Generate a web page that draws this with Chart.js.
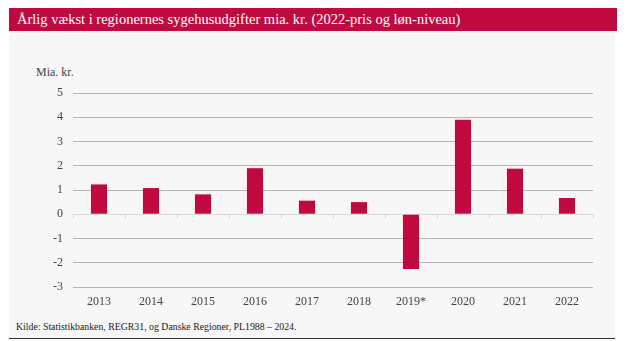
<!DOCTYPE html>
<html>
<head>
<meta charset="utf-8">
<script src="https://cdn.jsdelivr.net/npm/chart.js@4"></script>
<style>
  html, body { margin: 0; padding: 0; background: #fff; }
  body { width: 640px; height: 341px; position: relative; overflow: hidden; font-family: 'Liberation Serif', 'DejaVu Serif', serif; }
  #head { position: absolute; left: 9px; top: 8px; width: 600px; height: 23px; padding-left: 8px;
          background: #c00a3f; color: #fff; font-size: 14.5px; line-height: 23px; white-space: nowrap; }
  #panel { position: absolute; left: 9px; top: 31px; width: 606px; height: 307px; background: #f7f7f7;
           border-bottom: 1.5px solid #333; }
  #unit { position: absolute; left: 36px; top: 65px; font-size: 12px; color: #444; }
  #source { position: absolute; left: 16px; top: 321px; font-size: 9.8px; color: #222; white-space: nowrap; }
  #wrap { position: absolute; left: 0; top: 0; width: 640px; height: 341px; }
</style>
</head>
<body>
<div id="head">Årlig vækst i regionernes sygehusudgifter mia. kr. (2022-pris og løn-niveau)</div>
<div id="panel"></div>
<div id="unit">Mia. kr.</div>
<div id="source">Kilde: Statistikbanken, REGR31, og Danske Regioner, PL1988 – 2024.</div>
<div id="wrap"><canvas id="chart" width="640" height="341"></canvas></div>
<script>
const YEARS = ['2013', '2014', '2015', '2016', '2017', '2018', '2019*', '2020', '2021', '2022'];
const GROWTH = [1.23, 1.08, 0.82, 1.9, 0.56, 0.5, -2.26, 3.9, 1.88, 0.67];
const Y_MIN = -3;
const Y_MAX = 5;

const RED = '#c00a3f';

// small tick marks on the zero line between the categories
const zeroTicks = {
  id: 'zeroTicks',
  afterDatasetsDraw(chart) {
    const x = chart.scales.x;
    const y = chart.scales.y;
    const ctx = chart.ctx;
    const zero = y.getPixelForValue(0);
    const step = x.getPixelForValue(1) - x.getPixelForValue(0);
    ctx.save();
    ctx.strokeStyle = '#d4d4d4';
    ctx.lineWidth = 1;
    for (let i = 0; i <= YEARS.length; i++) {
      let px = Math.round(x.getPixelForValue(i) - step / 2) + 0.5;
      ctx.beginPath();
      ctx.moveTo(px, zero);
      ctx.lineTo(px, zero + 4);
      ctx.stroke();
    }
    ctx.restore();
  },
};

new Chart(document.getElementById('chart'), {
  type: 'bar',
  data: {
    labels: YEARS,
    datasets: [{
      data: GROWTH,
      backgroundColor: RED,
      borderWidth: 0,
      barPercentage: 0.31,
      categoryPercentage: 1,
    }],
  },
  options: {
    responsive: false,
    animation: false,
    devicePixelRatio: 1,
    layout: { padding: { left: 0, right: 47, top: 93, bottom: 32 } },
    plugins: { legend: { display: false }, tooltip: { enabled: false } },
    scales: {
      x: {
        grid: { display: false, drawTicks: false },
        border: { display: false },
        ticks: { color: '#444', font: { family: 'Liberation Serif', size: 12 }, padding: 8, maxRotation: 0, autoSkip: false },
        afterFit: (scale) => { scale.height = 22; },
      },
      y: {
        min: Y_MIN,
        max: Y_MAX,
        grid: {
          drawTicks: false,
          lineWidth: 1,
          color: (c) => (c.tick && c.tick.value === 0 ? '#d9d9d9' : '#b4b4b4'),
        },
        border: { display: false },
        ticks: { stepSize: 1, color: '#444', font: { family: 'Liberation Serif', size: 12 }, padding: 10 },
        afterFit: (scale) => { scale.width = 73; },
      },
    },
  },
  plugins: [zeroTicks],
});
</script>
</body>
</html>
